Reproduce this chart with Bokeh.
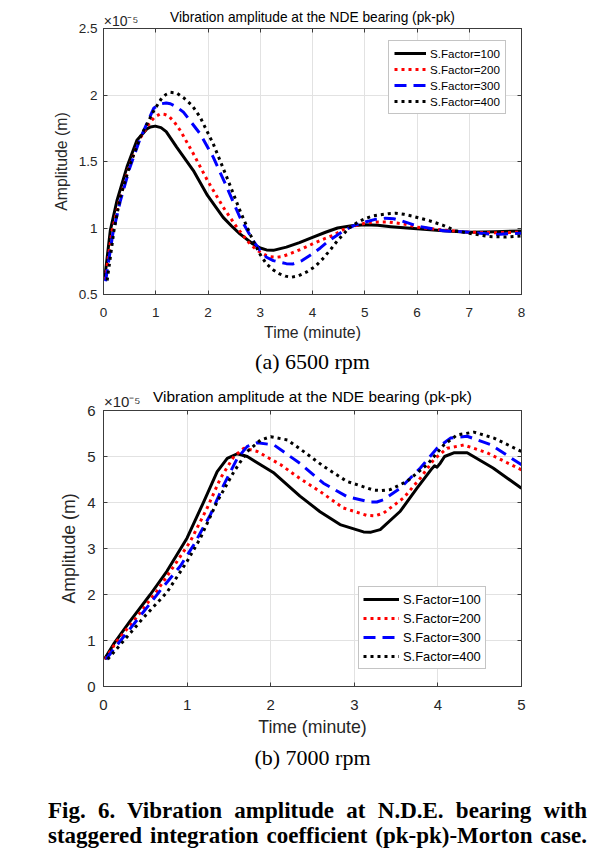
from bokeh.plotting import figure
from bokeh.models import (Range1d, FixedTicker, LinearAxis, CustomJSTickFormatter,
                          Legend, LegendItem, Div, Title)
from bokeh.layouts import column
from bokeh.embed import file_html
from bokeh.resources import INLINE

# ---------------- data ----------------
series_labels = ["S.Factor=100", "S.Factor=200", "S.Factor=300", "S.Factor=400"]

# (a) 6500 rpm  -- time (minute), amplitude (x1e-5 m)
t_a100 = [0.02, 0.13, 0.26, 0.45, 0.64, 0.83, 0.9, 0.99, 1.1, 1.2, 1.4, 1.72, 1.99, 2.29,
          2.45, 2.61, 2.86, 3.0, 3.12, 3.25, 3.5, 3.75, 4.0, 4.25, 4.48, 4.75, 5.0, 5.25,
          5.5, 6.0, 6.5, 7.0, 7.5, 8.0]
amp_a100 = [0.61, 0.98, 1.21, 1.46, 1.66, 1.745, 1.76, 1.766, 1.755, 1.725, 1.608, 1.432,
            1.245, 1.08, 1.015, 0.956, 0.88, 0.85, 0.835, 0.832, 0.856, 0.89, 0.93, 0.968,
            1.0, 1.017, 1.024, 1.02, 1.01, 0.994, 0.98, 0.968, 0.972, 0.978]

t_a200 = [0.03, 0.16, 0.3, 0.48, 0.68, 0.88, 0.98, 1.09, 1.18, 1.25, 1.35, 1.47, 1.72, 1.99,
          2.29, 2.55, 2.8, 2.95, 3.12, 3.2, 3.31, 3.42, 3.56, 3.78, 4.0, 4.2, 4.39, 4.6,
          4.75, 5.0, 5.25, 5.47, 5.75, 6.0, 6.5, 7.0, 7.5, 8.0]
amp_a200 = [0.61, 0.97, 1.2, 1.45, 1.66, 1.79, 1.835, 1.858, 1.853, 1.84, 1.8, 1.733, 1.558,
            1.357, 1.157, 1.006, 0.881, 0.83, 0.793, 0.783, 0.78, 0.785, 0.805, 0.84, 0.88,
            0.915, 0.944, 0.99, 1.01, 1.036, 1.045, 1.044, 1.03, 1.006, 0.985, 0.968, 0.965,
            0.968]

t_a300 = [0.04, 0.18, 0.32, 0.5, 0.7, 0.96, 1.05, 1.12, 1.2, 1.28, 1.4, 1.53, 1.85, 2.1,
          2.36, 2.61, 2.86, 3.0, 3.12, 3.25, 3.37, 3.5, 3.63, 3.8, 4.0, 4.15, 4.32, 4.6,
          4.8, 5.0, 5.2, 5.4, 5.55, 5.7, 6.0, 6.5, 7.0, 7.5, 8.0]
amp_a300 = [0.6, 0.96, 1.2, 1.45, 1.67, 1.9, 1.925, 1.935, 1.94, 1.934, 1.91, 1.871, 1.708,
            1.533, 1.307, 1.081, 0.906, 0.83, 0.78, 0.755, 0.743, 0.732, 0.73, 0.755, 0.806,
            0.85, 0.906, 0.98, 1.02, 1.044, 1.065, 1.074, 1.07, 1.055, 1.015, 0.98, 0.968,
            0.951, 0.961]

t_a400 = [0.07, 0.2, 0.32, 0.51, 0.7, 0.96, 1.12, 1.2, 1.28, 1.4, 1.53, 1.7, 1.85, 2.1,
          2.36, 2.61, 2.86, 3.0, 3.12, 3.25, 3.37, 3.48, 3.6, 3.73, 3.88, 4.05, 4.2, 4.35,
          4.48, 4.7, 4.85, 5.0, 5.15, 5.3, 5.45, 5.59, 5.75, 5.9, 6.23, 6.5, 6.74, 7.0,
          7.37, 7.7, 8.0]
amp_a400 = [0.605, 0.98, 1.23, 1.48, 1.68, 1.88, 1.98, 2.005, 2.02, 2.015, 1.98, 1.92,
            1.833, 1.633, 1.382, 1.132, 0.906, 0.8, 0.73, 0.685, 0.655, 0.638, 0.63, 0.64,
            0.668, 0.71, 0.77, 0.84, 0.906, 1.0, 1.04, 1.07, 1.09, 1.1, 1.108, 1.111, 1.103,
            1.09, 1.056, 1.02, 0.98, 0.96, 0.936, 0.932, 0.94]

# (b) 7000 rpm
t_b100 = [0.01, 0.12, 0.32, 0.56, 0.76, 1.0, 1.2, 1.36, 1.48, 1.6, 1.72, 2.04, 2.35, 2.59,
          2.83, 3.11, 3.2, 3.31, 3.55, 3.75, 3.93, 3.96, 3.99, 4.03, 4.08, 4.19, 4.35, 4.66,
          5.0]
amp_b100 = [0.593, 0.92, 1.425, 2.0, 2.51, 3.23, 4.02, 4.67, 4.96, 5.06, 5.0, 4.64, 4.14,
            3.8, 3.52, 3.36, 3.355, 3.41, 3.81, 4.31, 4.74, 4.8, 4.77, 4.86, 5.0, 5.08, 5.08,
            4.75, 4.31]

t_b200 = [0.02, 0.16, 0.36, 0.64, 0.88, 1.04, 1.24, 1.4, 1.56, 1.68, 1.84, 2.12, 2.35, 2.59,
          2.87, 3.15, 3.25, 3.35, 3.59, 3.79, 3.95, 4.11, 4.31, 4.59, 5.0]
amp_b200 = [0.593, 0.99, 1.42, 2.08, 2.72, 3.16, 3.88, 4.53, 5.0, 5.18, 5.11, 4.82, 4.52,
            4.24, 3.88, 3.72, 3.71, 3.77, 4.1, 4.53, 4.93, 5.18, 5.25, 5.08, 4.71]

t_b300 = [0.03, 0.2, 0.36, 0.72, 0.92, 1.08, 1.28, 1.44, 1.6, 1.72, 1.84, 2.04, 2.35, 2.63,
          2.91, 3.19, 3.27, 3.35, 3.55, 3.79, 3.99, 4.15, 4.35, 4.63, 5.0]
amp_b300 = [0.593, 0.99, 1.35, 2.18, 2.62, 3.08, 3.74, 4.39, 4.96, 5.22, 5.3, 5.25, 4.85,
            4.42, 4.13, 4.01, 4.01, 4.06, 4.31, 4.75, 5.18, 5.4, 5.44, 5.26, 4.82]

t_b400 = [0.05, 0.24, 0.48, 0.76, 1.0, 1.16, 1.36, 1.56, 1.72, 1.88, 2.0, 2.2, 2.4, 2.63,
          2.91, 3.23, 3.33, 3.43, 3.63, 3.87, 4.07, 4.23, 4.43, 4.67, 5.0]
amp_b400 = [0.593, 0.99, 1.5, 2.05, 2.72, 3.23, 4.02, 4.67, 5.11, 5.36, 5.43, 5.36, 5.1,
            4.79, 4.46, 4.27, 4.26, 4.28, 4.46, 4.82, 5.25, 5.47, 5.53, 5.4, 5.11]

x_ticks_a = [0, 1, 2, 3, 4, 5, 6, 7, 8]
x_labels_a = ["0", "1", "2", "3", "4", "5", "6", "7", "8"]
y_ticks_a = [0.5, 1.0, 1.5, 2.0, 2.5]
y_labels_a = ["0.5", "1", "1.5", "2", "2.5"]

x_ticks_b = [0, 1, 2, 3, 4, 5]
x_labels_b = ["0", "1", "2", "3", "4", "5"]
y_ticks_b = [0, 1, 2, 3, 4, 5, 6]
y_labels_b = ["0", "1", "2", "3", "4", "5", "6"]

exponent_text = "\u00d710\u207b\u2075"
title_text = "Vibration amplitude at the NDE bearing (pk-pk)"
x_label = "Time (minute)"
y_label = "Amplitude (m)"
caption_a = "(a) 6500 rpm"
caption_b = "(b) 7000 rpm"
fig_caption_1 = "Fig. 6. Vibration amplitude at N.D.E. bearing with"
fig_caption_2 = "staggered integration coefficient (pk-pk)-Morton case."

# ---------------- styles ----------------
SANS = "Liberation Sans"
SERIF = "Liberation Serif"
AX = "#3c3c3c"
GRID = "#e2e2e2"
TXT = "#262626"
line_styles = [
    dict(line_color="black", line_dash="solid", line_width=3, line_join="round"),
    dict(line_color="#ff0000", line_dash="3 4", line_width=3, line_cap="butt"),
    dict(line_color="#0000ff", line_dash="12 7", line_width=3, line_cap="butt"),
    dict(line_color="black", line_dash="3 4", line_width=3, line_cap="butt"),
]


def make_panel(ts, amps, xr, yr, xt, xl, yt, yl, g):
    p = figure(width=g["w"], height=g["h"], output_backend="svg", toolbar_location=None,
               x_range=Range1d(*xr), y_range=Range1d(*yr),
               min_border_left=g["bl"], min_border_right=g["br"],
               min_border_top=g["bt"], min_border_bottom=g["bb"])
    p.background_fill_color = "white"
    p.border_fill_color = "white"
    p.outline_line_color = AX
    p.outline_line_width = 1

    for ax, ticks, labels, so in ((p.xaxis[0], xt, xl, g["xso"]), (p.yaxis[0], yt, yl, g["yso"])):
        ax.ticker = FixedTicker(ticks=ticks)
        ax.major_label_overrides = {float(t): s for t, s in zip(ticks, labels)}
        ax.major_tick_in = 4
        ax.major_tick_out = 0
        ax.minor_tick_line_color = None
        ax.axis_line_color = AX
        ax.major_tick_line_color = AX
        ax.major_label_text_font = SANS
        ax.major_label_text_font_size = g["tick_fs"]
        ax.major_label_text_color = TXT
        ax.major_label_standoff = so
        ax.axis_label_text_font = SANS
        ax.axis_label_text_font_size = g["lab_fs"]
        ax.axis_label_text_font_style = "normal"
        ax.axis_label_text_color = TXT
    p.xaxis[0].axis_label = x_label
    p.yaxis[0].axis_label = y_label
    p.xaxis[0].axis_label_standoff = g["xlso"]
    p.yaxis[0].axis_label_standoff = g["ylso"]

    # top axis: inner ticks, the x10^-5 multiplier at the origin and the title
    pad = "\u00a0" * g["exp_pad"]
    top_fmt = CustomJSTickFormatter(args=dict(lab=pad + exponent_text, t0=xt[0]),
                                    code="return tick == t0 ? lab : '';")
    top = LinearAxis(ticker=FixedTicker(ticks=xt), formatter=top_fmt,
                     major_tick_in=4, major_tick_out=0, minor_tick_line_color=None,
                     axis_line_color=AX, major_tick_line_color=AX,
                     major_label_standoff=g["exp_so"], major_label_text_font=SANS,
                     major_label_text_font_size=g["exp_fs"], major_label_text_color=TXT,
                     axis_label=title_text, axis_label_text_font=SANS,
                     axis_label_text_font_size=g["title_fs"], axis_label_text_font_style="normal",
                     axis_label_text_color="black", axis_label_standoff=g["title_so"])
    p.add_layout(top, "above")
    right = LinearAxis(ticker=FixedTicker(ticks=yt),
                       formatter=CustomJSTickFormatter(code="return '';"),
                       major_tick_in=4, major_tick_out=0, minor_tick_line_color=None,
                       axis_line_color=AX, major_tick_line_color=AX,
                       major_label_standoff=0, major_label_text_font_size="1px")
    p.add_layout(right, "right")

    p.xgrid.ticker = FixedTicker(ticks=xt)
    p.ygrid.ticker = FixedTicker(ticks=yt)
    p.xgrid.grid_line_color = GRID
    p.ygrid.grid_line_color = GRID

    items = []
    for t, a, st, lab in zip(ts, amps, line_styles, series_labels):
        r = p.line(t, a, **st)
        items.append(LegendItem(label=lab, renderers=[r]))
    leg = Legend(items=items, location=g["leg_loc"], margin=0,
                 padding=g["leg_pad"], spacing=g["leg_sp"],
                 glyph_width=g["leg_gw"], glyph_height=g["leg_ih"], label_height=g["leg_ih"],
                 label_standoff=4, label_text_font=SANS, label_text_font_size=g["leg_fs"],
                 label_text_color="black", border_line_color="#8a8a8a", border_line_width=1,
                 background_fill_color="white", background_fill_alpha=1.0)
    p.add_layout(leg)

    p.add_layout(Title(text=g["caption"], align="center", text_font=SERIF,
                       text_font_size="22px", text_font_style="normal", text_color="black",
                       standoff=g["cap_so"]), "below")
    return p


geom_a = dict(w=538, h=384, bl=103, br=15, bt=28, bb=90, xso=13, yso=6, xlso=4, ylso=6,
              tick_fs="13.5px", lab_fs="15.8px", title_fs="13.75px", title_so=-15,
              exp_fs="14px", exp_so=0, exp_pad=9,
              leg_loc=(285, 180), leg_pad=5, leg_sp=2, leg_gw=32, leg_ih=14, leg_fs="11.6px",
              cap_so=6, caption=caption_a)
geom_b = dict(w=538, h=392, bl=103, br=17, bt=25, bb=90, xso=13, yso=8, xlso=4, ylso=5,
              tick_fs="15px", lab_fs="17.7px", title_fs="15.4px", title_so=-15,
              exp_fs="15px", exp_so=1, exp_pad=9,
              leg_loc=(255, 17), leg_pad=4, leg_sp=3, leg_gw=36, leg_ih=16, leg_fs="12.9px",
              cap_so=6, caption=caption_b)

p1 = make_panel([t_a100, t_a200, t_a300, t_a400], [amp_a100, amp_a200, amp_a300, amp_a400],
                (0, 8), (0.5, 2.5), x_ticks_a, x_labels_a, y_ticks_a, y_labels_a, geom_a)
p2 = make_panel([t_b100, t_b200, t_b300, t_b400], [amp_b100, amp_b200, amp_b300, amp_b400],
                (0, 5), (0, 6), x_ticks_b, x_labels_b, y_ticks_b, y_labels_b, geom_b)

cap_html = (
    '<div style="margin-left:48px; width:539px; padding-top:22px; font-family:\'Liberation Serif\';'
    ' font-weight:bold; font-size:23px; line-height:25px; color:black; text-align:justify;'
    ' text-align-last:justify;">' + fig_caption_1 + '<br>' + fig_caption_2 + '</div>'
)
cap = Div(text=cap_html, width=590, height=76, margin=0)

layout = column(p1, p2, cap, spacing=0)
open("out.html", "w").write(file_html(layout, INLINE))
